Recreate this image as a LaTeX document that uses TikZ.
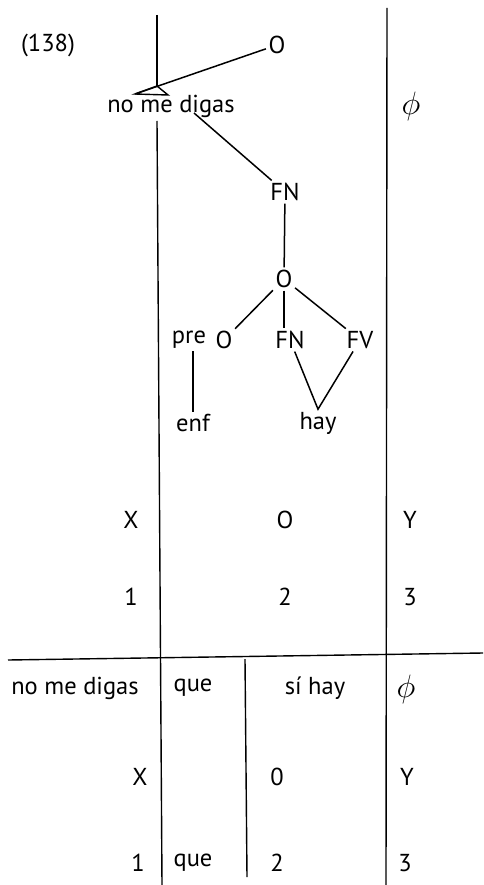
\documentclass[tikz,border=0pt]{standalone}
\usepackage{fontspec}
\setmainfont{PT Sans}
\usetikzlibrary{positioning}

\begin{document}
\begin{tikzpicture}[x=1pt, y=-1pt, line width=1.4pt,
    lbl/.style={font=\fontsize{24.5}{28}\selectfont, inner sep=2pt},
    empty/.style={lbl, scale=1.3},
    branch/.style={line width=1.5pt}]
  \useasboundingbox (0,0) rectangle (483,885);
  % frame lines
  \draw (157,15) -- (157,86);
  \draw (157,121) -- (162,885);
  \draw (387,8) -- (386,885);
  \draw (8,660) -- (483,653);
  \draw (245,659) -- (247,877);
  % tree
  \node[lbl] (num) at (48,45) {(138)};
  \node[lbl] (top) at (277,45) {O};
  \coordinate (triL) at (135,94);
  \coordinate (triT) at (157,86);
  \coordinate (triR) at (168,95);
  \draw (triL) -- (triT) -- (triR) -- cycle;
  \draw[branch] (top) -- (triL);
  \node[lbl] (nmd) at (171,106) {no me digas};
  \node[empty] (phiA) at (411,106) {$\phi$};
  \coordinate (dg) at (194,113);
  \node[lbl] (fnA) at (285,192) {FN};
  \draw[branch] (dg) -- (fnA);
  \node[lbl] (oB) at (284,279) {O};
  \draw[branch] (fnA) -- (oB);
  \node[lbl] (pre) at (189,340) {pre};
  \node[lbl] (oC) at (224,340) {O};
  \node[lbl] (fnB) at (290,340) {FN};
  \node[lbl] (fv) at (360,340) {FV};
  \draw[branch] (oB) -- (oC);
  \draw[branch] (oB) -- (fnB.north -| oB);
  \draw[branch] (oB) -- (fv);
  \node[lbl] (enf) at (193,423) {enf};
  \node[lbl] (hay) at (318,423) {hay};
  \draw[branch] (pre.south -| enf) -- (enf);
  \draw[branch] (fnB) -- (hay.north) -- (fv);
  % rows under the tree
  \node[lbl] (xA) at (131,520) {X};
  \node[lbl] (oD) at (285,520) {O};
  \node[lbl] (yA) at (410,520) {Y};
  \node[lbl] (oneA) at (131,597) {1};
  \node[lbl] (twoA) at (285,597) {2};
  \node[lbl] (threeA) at (410,597) {3};
  % lower table
  \node[lbl] (nmdB) at (75,688) {no me digas};
  \node[lbl] (queA) at (193,688) {que};
  \node[lbl] (sihay) at (315,688) {sí hay};
  \node[empty] (phiB) at (406,689) {$\phi$};
  \node[lbl] (xB) at (140,777) {X};
  \node[lbl] (zero) at (277,777) {0};
  \node[lbl] (yB) at (407,777) {Y};
  \node[lbl] (oneB) at (138,863) {1};
  \node[lbl] (queB) at (193,863) {que};
  \node[lbl] (twoB) at (277,863) {2};
  \node[lbl] (threeB) at (405,863) {3};
\end{tikzpicture}
\end{document}
